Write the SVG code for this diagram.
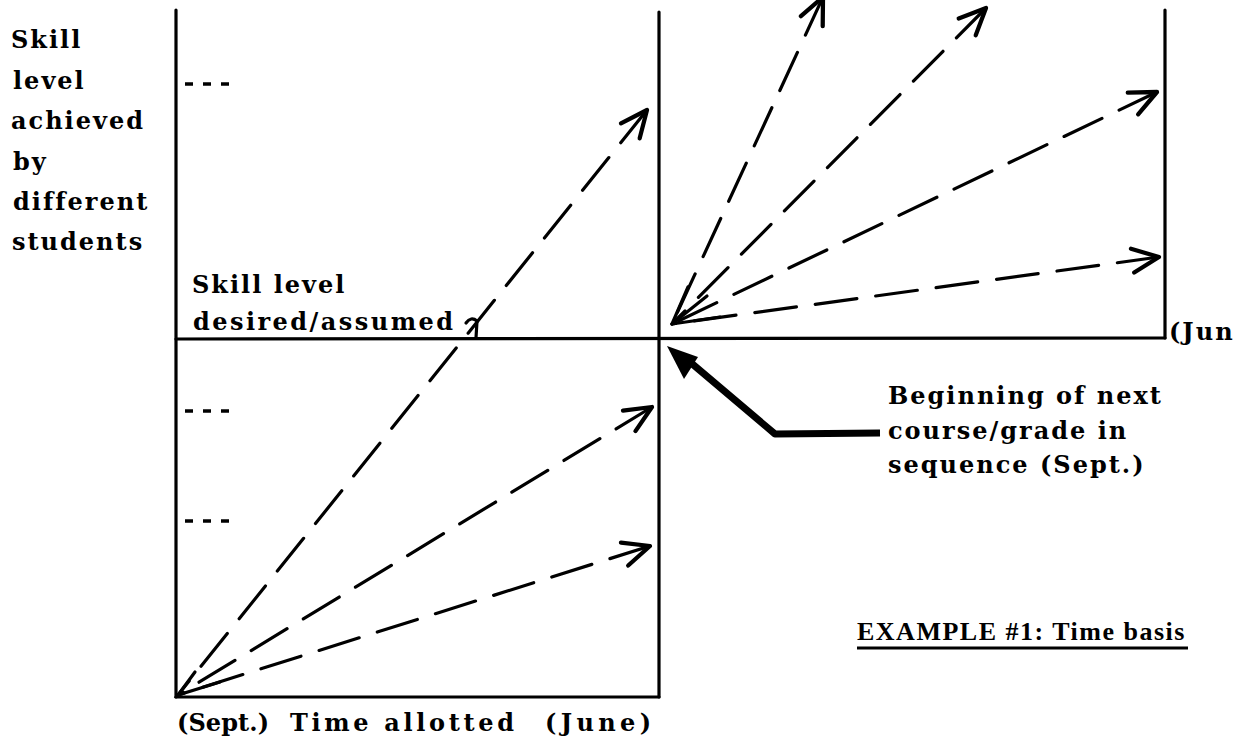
<svg xmlns="http://www.w3.org/2000/svg" width="1238" height="741" viewBox="0 0 1238 741">
<style>
.t{font-family:"DejaVu Serif","Liberation Serif",serif;font-weight:bold;font-size:24px;fill:#000;letter-spacing:2px}
.ttl{font-family:"Liberation Serif",serif;font-weight:bold;font-size:26px;fill:#000;letter-spacing:1.5px}
.ax{stroke:#000;stroke-width:3.2;fill:none;stroke-linecap:round}
.d{stroke:#000;stroke-width:3.2;fill:none;stroke-dasharray:42 19;stroke-linecap:round;marker-start:url(#open)}
.s{stroke:#000;stroke-width:3.2;fill:none;stroke-linecap:round}
.tick{stroke:#000;stroke-width:3.5;fill:none;stroke-dasharray:8 10}
</style>
<defs>
<marker id="open" markerUnits="userSpaceOnUse" markerWidth="40" markerHeight="40" viewBox="-25 -15 30 30" refX="0" refY="0" orient="auto-start-reverse">
<path d="M-20,-9 L0,0 L-20,9" fill="none" stroke="#000" stroke-width="3.2" stroke-linecap="round" stroke-linejoin="round"/>
</marker>
</defs>
<g id="axes">
<line class="ax" x1="176" y1="10" x2="176" y2="697"/>
<line class="ax" x1="659" y1="12" x2="659" y2="697"/>
<line class="ax" x1="1165" y1="10" x2="1165" y2="338"/>
<line class="ax" x1="176" y1="339" x2="1165" y2="338"/>
<line class="ax" x1="176" y1="697" x2="659" y2="697"/>
<line class="tick" x1="185" y1="84" x2="230" y2="84"/>
<line class="tick" x1="185" y1="411" x2="230" y2="411"/>
<line class="tick" x1="185" y1="521" x2="230" y2="521"/>
<path class="s" d="M466,323 Q471,316 477,321 L476,338" stroke-width="2.5"/>
</g>
<g id="connectors">
<path class="d" d="M647,110 L178,695"/>
<path class="d" d="M652,407 L178,695"/>
<path class="d" d="M650,546 L178,695"/>
<path class="s" d="M195,672 L178,695 L220,682"/>
<path class="d" d="M823,-3 L672,324"/>
<path class="d" d="M986,8 L672,324"/>
<path class="d" d="M1157,92 L672,324"/>
<path class="d" d="M1159,257 L672,324"/>
<path class="s" d="M688,287 L672,324 L707,296 M672,324 L720,317"/>
<path d="M880,433 L775,434 L690,362" fill="none" stroke="#000" stroke-width="7" stroke-linejoin="round"/>
<polygon points="667,346 698,357 684,379" fill="#000"/>
</g>
<g id="yaxis-label">
<text class="t" x="11" y="48">Skill</text>
<text class="t" x="13" y="89">level</text>
<text class="t" x="11" y="129">achieved</text>
<text class="t" x="13" y="170">by</text>
<text class="t" x="13" y="210">different</text>
<text class="t" x="12" y="250">students</text>
</g>
<g id="desired-label">
<text class="t" x="192" y="293">Skill level</text>
<text class="t" x="193" y="330" textLength="262" lengthAdjust="spacing">desired/assumed</text>
</g>
<g id="next-label">
<text class="t" x="888" y="404">Beginning of next</text>
<text class="t" x="888" y="439">course/grade in</text>
<text class="t" x="888" y="473">sequence (Sept.)</text>
</g>
<g id="x-label">
<text class="t" x="177" y="731" textLength="94" lengthAdjust="spacing">(Sept.)</text>
<text class="t" x="290" y="731" textLength="226" lengthAdjust="spacing">Time allotted</text>
<text class="t" x="545" y="731" textLength="108" lengthAdjust="spacing">(June)</text>
</g>
<g id="jun-label">
<text class="t" x="1169" y="340">(Jun</text>
</g>
<g id="title">
<text class="ttl" x="857" y="640">EXAMPLE #1: Time basis</text>
<line x1="857" y1="648" x2="1188" y2="648" stroke="#000" stroke-width="3"/>
</g>
</svg>
